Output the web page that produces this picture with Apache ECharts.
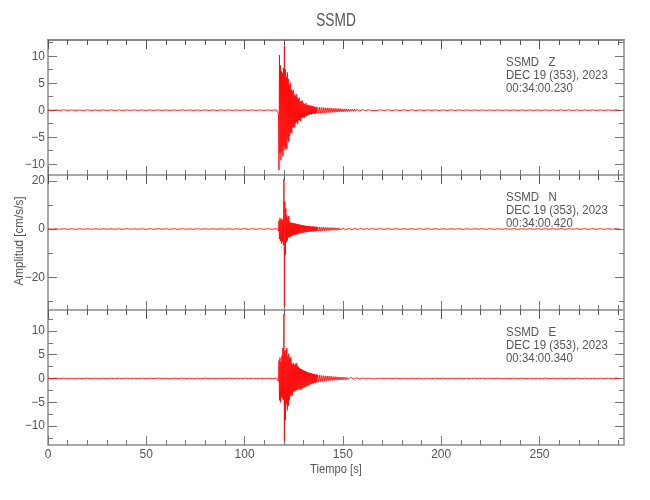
<!DOCTYPE html>
<html><head><meta charset="utf-8">
<script src="https://cdn.jsdelivr.net/npm/echarts@6/dist/echarts.min.js"></script>
<style>html,body{margin:0;padding:0;background:#fff}#c{width:650px;height:500px}</style>
</head><body><div id="c"></div>
<script>
const chartTitle = 'SSMD';
const yName = 'Amplitud [cm/s/s]';
const xName = 'Tiempo [s]';
const stationLabels = ['SSMD   Z', 'SSMD   N', 'SSMD   E'];
const dateLabel = 'DEC 19 (353), 2023';
const startTimes = ['00:34:00.230', '00:34:00.420', '00:34:00.340'];

const xRange = [0, 293];
const xMajorTicks = [0, 50, 100, 150, 200, 250];
const xMinorTicks = [10,20,30,40,60,70,80,90,110,120,130,140,160,170,180,190,210,220,230,240,260,270,280,290];
const yRanges = [[-12, 13], [-33.6, 22.4], [-14, 14.4]];
const yMajorTicks = [[-10,-5,0,5,10], [-20,0,20], [-10,-5,0,5,10]];
const yMinorTicks = [[-7.5,-2.5,2.5,7.5,12.5], [-30,-10,10], [-12.5,-7.5,-2.5,2.5,7.5,12.5]];

// sampling of each record segment: [start time (s), sample step (s)]
const preSeg = [0, 2];
const burstSeg = [117, 0.25];
const codaSeg = [137, 0.5];
const tailSeg = [165, 2];

// Z component
const zPre = [0.05,-0.06,0.04,-0.05,0.06,-0.04,0.05,-0.06,0.04,-0.05,0.06,-0.05,0.04,-0.06,0.05,-0.04,0.05,-0.06,0.04,-0.05,0.06,-0.04,0.05,-0.05,0.04,-0.06,0.05,-0.04,0.06,-0.05,
  0.05,-0.06,0.04,-0.05,0.06,-0.04,0.05,-0.06,0.04,-0.05,0.06,-0.05,0.04,-0.06,0.05,-0.04,0.05,-0.06,0.04,-0.05,0.06,-0.04,0.05,-0.05,0.04,-0.06,0.05,-0.04,0.08];
const zBurst = [0.3,-0.6,-11.1,10.2,-8.0,8.3,-9.3,7.2,-7.6,6.9,-8.6,7.8,-6.5,12.0,-7.4,7.5,-6.8,6.2,-7.2,7.0,
  -5.4,5.8,-5.9,4.6,-4.8,5.1,-4.1,3.9,-4.3,3.5,-3.3,3.8,-3.0,2.9,-3.2,2.6,-2.5,3.0,-2.2,2.4,
  -2.6,2.1,-1.9,2.3,-1.8,1.7,-2.0,1.6,-1.5,1.8,-1.4,1.4,-1.3,1.2,-1.4,1.1,-1.0,1.3,-1.1,0.9,
  -1.0,1.0,-0.8,0.9,-0.9,0.8,-0.7,0.9,-0.8,0.7,-0.7,0.8,-0.6,0.7,-0.7,0.6,-0.6,0.6,-0.5,0.6];
const zCoda = [0.6,-0.6,0.55,-0.6,0.5,-0.55,0.5,-0.5,0.45,-0.5,0.45,-0.45,0.4,-0.45,0.4,-0.4,0.35,-0.4,0.35,-0.35,0.3,-0.35,0.3,-0.3,0.3,-0.3,0.25,-0.3,0.25,-0.25,0.25,-0.25,0.2,-0.25,0.2,-0.2,0.2,-0.2,0.18,-0.2,0.18,-0.15,0.15,-0.15,0.15,-0.12,0.12,-0.12,0.12,-0.1,0.1,-0.1,0.1,-0.08,0.08,-0.08];
const zTail = [0.06,-0.07,0.06,-0.05,0.07,-0.06,0.05,-0.06,0.06,-0.05,0.06,-0.06,0.05,-0.06,0.05,-0.05,0.06,-0.05,0.05,-0.06,0.05,-0.05,0.06,-0.05,0.05,-0.05,0.05,-0.06,0.05,-0.05,
  0.05,-0.05,0.06,-0.05,0.05,-0.05,0.05,-0.06,0.05,-0.05,0.05,-0.05,0.05,-0.05,0.06,-0.05,0.05,-0.05,0.05,-0.05,0.05,-0.05,0.05,-0.05,0.05,-0.05,0.05,-0.05,0.05,-0.05,0.05,-0.05,0.05,-0.05];

// N component
const nPre = [0.1,-0.12,0.1,-0.1,0.12,-0.1,0.1,-0.12,0.1,-0.1,0.12,-0.1,0.1,-0.12,0.1,-0.1,0.1,-0.12,0.1,-0.1,0.12,-0.1,0.1,-0.1,0.1,-0.12,0.1,-0.1,0.12,-0.1,
  0.1,-0.12,0.1,-0.1,0.12,-0.1,0.1,-0.12,0.1,-0.1,0.12,-0.1,0.1,-0.12,0.1,-0.1,0.1,-0.12,0.1,-0.1,0.12,-0.1,0.1,-0.1,0.1,-0.12,0.1,-0.1,0.15];
const nBurst = [0.3,-0.8,3.5,-4.2,4.6,-5.0,3.8,-6.0,4.2,-5.2,3.6,-6.6,20.7,-32.2,11.3,-10.8,8.5,-5.5,5.8,-4.8,
  4.5,-3.6,5.4,-3.2,3.0,-3.4,2.6,-2.8,2.6,-2.8,2.5,-2.6,2.4,-2.5,2.3,-2.4,2.2,-2.3,2.1,-2.2,
  2.0,-2.1,2.0,-1.9,1.8,-1.7,1.7,-1.6,1.6,-1.6,1.5,-1.5,1.5,-1.4,1.4,-1.4,1.3,-1.3,1.3,-1.2,
  1.2,-1.2,1.2,-1.1,1.1,-1.1,1.1,-1.0,1.0,-1.0,1.0,-1.0,1.0,-0.95,0.95,-0.9,0.9,-0.9,0.9,-0.9];
const nCoda = [0.9,-0.8,0.85,-0.85,0.8,-0.75,0.75,-0.7,0.7,-0.7,0.65,-0.65,0.6,-0.6,0.6,-0.55,0.55,-0.5,0.5,-0.5,0.45,-0.45,0.45,-0.4,0.4,-0.4,0.38,-0.36,0.35,-0.35,0.32,-0.3,0.3,-0.3,0.28,-0.28,0.26,-0.25,0.25,-0.24,0.22,-0.22,0.2,-0.2,0.2,-0.18,0.18,-0.18,0.16,-0.16,0.15,-0.15,0.15,-0.14,0.14,-0.14];
const nTail = [0.14,-0.13,0.12,-0.13,0.12,-0.12,0.12,-0.12,0.12,-0.11,0.12,-0.12,0.11,-0.12,0.12,-0.11,0.12,-0.12,0.11,-0.12,0.12,-0.11,0.12,-0.12,0.11,-0.12,0.12,-0.11,0.12,-0.12,
  0.11,-0.12,0.12,-0.11,0.12,-0.12,0.11,-0.12,0.12,-0.11,0.12,-0.12,0.11,-0.12,0.12,-0.11,0.12,-0.12,0.11,-0.12,0.12,-0.11,0.12,-0.12,0.11,-0.12,0.12,-0.11,0.12,-0.12,0.11,-0.12,0.12,-0.11];

// E component
const ePre = [0.06,-0.07,0.06,-0.06,0.07,-0.06,0.06,-0.07,0.06,-0.06,0.07,-0.06,0.06,-0.07,0.06,-0.06,0.06,-0.07,0.06,-0.06,0.07,-0.06,0.06,-0.06,0.06,-0.07,0.06,-0.06,0.07,-0.06,
  0.06,-0.07,0.06,-0.06,0.07,-0.06,0.06,-0.07,0.06,-0.06,0.07,-0.06,0.06,-0.07,0.06,-0.06,0.06,-0.07,0.06,-0.06,0.07,-0.06,0.06,-0.06,0.06,-0.07,0.06,-0.06,0.1];
const eBurst = [0.3,-0.6,3.8,-4.6,4.4,-5.0,3.5,-3.9,4.8,-4.2,6.4,-4.5,13.5,-13.1,5.8,-8.8,6.0,-5.4,6.4,-6.7,
  4.6,-5.8,5.2,-4.6,4.2,-3.8,4.5,-3.4,3.3,-3.6,3.0,-2.9,3.2,-2.6,2.8,-2.7,3.1,-2.4,3.2,-2.5,
  2.6,-2.3,2.4,-2.2,2.2,-2.4,2.0,-2.3,2.0,-2.1,1.8,-2.0,1.7,-1.9,1.6,-1.8,1.5,-1.7,1.4,-1.6,
  1.3,-1.5,1.2,-1.4,1.2,-1.3,1.1,-1.2,1.1,-1.1,1.0,-1.0,0.9,-1.0,0.9,-0.9,0.8,-0.9,0.8,-0.8];
const eCoda = [0.8,-0.75,0.7,-0.7,0.65,-0.65,0.6,-0.6,0.55,-0.55,0.5,-0.5,0.5,-0.45,0.45,-0.45,0.4,-0.4,0.4,-0.35,0.35,-0.35,0.32,-0.3,0.3,-0.3,0.28,-0.26,0.25,-0.25,0.22,-0.22,0.2,-0.2,0.2,-0.18,0.18,-0.16,0.15,-0.15,0.14,-0.14,0.12,-0.12,0.12,-0.11,0.1,-0.1,0.1,-0.1,0.09,-0.09,0.08,-0.08,0.08,-0.08];
const eTail = [0.08,-0.07,0.07,-0.07,0.07,-0.06,0.07,-0.07,0.06,-0.07,0.07,-0.06,0.06,-0.07,0.06,-0.06,0.07,-0.06,0.06,-0.06,0.06,-0.07,0.06,-0.06,0.06,-0.06,0.07,-0.06,0.06,-0.06,
  0.06,-0.06,0.07,-0.06,0.06,-0.06,0.06,-0.07,0.06,-0.06,0.06,-0.06,0.06,-0.06,0.07,-0.06,0.06,-0.06,0.06,-0.06,0.06,-0.06,0.06,-0.06,0.06,-0.06,0.06,-0.06,0.06,-0.06,0.06,-0.06,0.06,-0.06];

const records = [
  [zPre, zBurst, zCoda, zTail],
  [nPre, nBurst, nCoda, nTail],
  [ePre, eBurst, eCoda, eTail]
];
const segs = [preSeg, burstSeg, codaSeg, tailSeg];

function toPoints(parts) {
  const out = [];
  parts.forEach((vals, k) => {
    const [t0, dt] = segs[k];
    vals.forEach((v, i) => out.push([t0 + i * dt, v]));
  });
  return out;
}

const FONT = "'Liberation Sans', Arial, sans-serif";
const TXT = '#555';
const LINE = '#a8a8a8';
const TICK = '#777';
const grids = [];
const xAxes = [];
const yAxes = [];
const series = [];
const tops = [40, 175, 310];
const H = 135;
const fmt = v => (v < 0 ? '\u2212' + Math.abs(v) : String(v));

tops.forEach((top, g) => {
  grids.push({ left: 48, width: 576, top: top, height: H });
  const xBase = { gridIndex: g, type: 'value', min: xRange[0], max: xRange[1], splitLine: { show: false }, axisPointer: { show: false } };
  xAxes.push(Object.assign({}, xBase, {
    position: 'bottom',
    axisLine: { show: true, onZero: false, lineStyle: { color: LINE, width: 2 } },
    axisTick: { show: true, inside: true, length: 9, customValues: xMajorTicks, lineStyle: { color: TICK } },
    axisLabel: { show: g === 2, customValues: xMajorTicks, margin: 4, color: TXT, fontSize: 12, fontFamily: FONT, formatter: fmt }
  }));
  xAxes.push(Object.assign({}, xBase, {
    position: 'bottom',
    axisLine: { show: false, onZero: false },
    axisTick: { show: true, inside: true, length: 5, customValues: xMinorTicks, lineStyle: { color: TICK } },
    axisLabel: { show: false }
  }));
  xAxes.push(Object.assign({}, xBase, {
    position: 'top',
    axisLine: { show: true, onZero: false, lineStyle: { color: g === 0 ? '#888' : LINE, width: 2 } },
    axisTick: { show: true, inside: true, length: 9, customValues: xMajorTicks, lineStyle: { color: '#555' } },
    axisLabel: { show: false }
  }));
  xAxes.push(Object.assign({}, xBase, {
    position: 'top',
    axisLine: { show: false, onZero: false },
    axisTick: { show: true, inside: true, length: 5, customValues: xMinorTicks, lineStyle: { color: '#555' } },
    axisLabel: { show: false }
  }));

  const yBase = { gridIndex: g, type: 'value', min: yRanges[g][0], max: yRanges[g][1], splitLine: { show: false }, axisPointer: { show: false } };
  yAxes.push(Object.assign({}, yBase, {
    position: 'left',
    axisLine: { show: true, onZero: false, lineStyle: { color: LINE, width: 2 } },
    axisTick: { show: true, inside: true, length: 9, customValues: yMajorTicks[g], lineStyle: { color: TICK } },
    axisLabel: { show: true, customValues: yMajorTicks[g], margin: 3, color: TXT, fontSize: 12, fontFamily: FONT, formatter: fmt, hideOverlap: false }
  }));
  yAxes.push(Object.assign({}, yBase, {
    position: 'left',
    axisLine: { show: false, onZero: false },
    axisTick: { show: true, inside: true, length: 5, customValues: yMinorTicks[g], lineStyle: { color: TICK } },
    axisLabel: { show: false }
  }));
  yAxes.push(Object.assign({}, yBase, {
    position: 'right',
    axisLine: { show: true, onZero: false, lineStyle: { color: LINE, width: 2 } },
    axisTick: { show: true, inside: true, length: 9, customValues: yMajorTicks[g], lineStyle: { color: TICK } },
    axisLabel: { show: false }
  }));
  yAxes.push(Object.assign({}, yBase, {
    position: 'right',
    axisLine: { show: false, onZero: false },
    axisTick: { show: true, inside: true, length: 5, customValues: yMinorTicks[g], lineStyle: { color: TICK } },
    axisLabel: { show: false }
  }));

  series.push({
    type: 'line',
    xAxisIndex: g * 4,
    yAxisIndex: g * 4,
    data: toPoints(records[g]),
    symbol: 'none',
    showSymbol: false,
    sampling: null,
    clip: true,
    lineStyle: { color: '#ff0000', width: 1, opacity: 0.85 },
    z: 1
  });
});

const graphics = [
  { type: 'text', x: 336, y: 21, scaleX: 0.72, style: { text: chartTitle, align: 'center', verticalAlign: 'middle', font: '19px ' + FONT, fill: TXT } },
  { type: 'text', x: 19, y: 241, rotation: Math.PI / 2, scaleX: 0.9, style: { text: yName, align: 'center', verticalAlign: 'middle', font: '13px ' + FONT, fill: TXT } },
  { type: 'text', x: 336, y: 469, scaleX: 0.86, style: { text: xName, align: 'center', verticalAlign: 'middle', font: '13px ' + FONT, fill: TXT } }
];
const labelTops = [62, 197, 332];
labelTops.forEach((y0, g) => {
  [stationLabels[g], dateLabel, startTimes[g]].forEach((s, k) => {
    graphics.push({ type: 'text', x: 506, y: y0 + k * 13, scaleX: 0.88, style: { text: s, align: 'left', verticalAlign: 'middle', font: '13px ' + FONT, fill: TXT } });
  });
});

const chart = echarts.init(document.getElementById('c'), null, { renderer: 'canvas' });
chart.setOption({
  animation: false,
  backgroundColor: '#fff',
  grid: grids,
  xAxis: xAxes,
  yAxis: yAxes,
  series: series,
  graphic: graphics
});
</script>
</body></html>
